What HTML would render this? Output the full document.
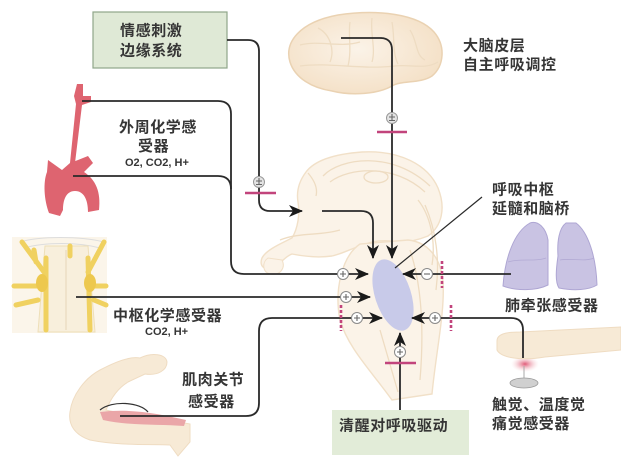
<!DOCTYPE html>
<html><head><meta charset="utf-8">
<style>
html,body{margin:0;padding:0;background:#fff;}
svg{display:block;}
text{font-family:"Liberation Sans","Noto Sans CJK SC",sans-serif;}
.cn{font-size:15px;font-weight:bold;fill:#353535;letter-spacing:0.6px;}
.sm{font-size:11px;font-weight:bold;fill:#353535;}
.ln{fill:none;stroke:#2a2a2a;stroke-width:1.8;}
.mg{stroke:#c2447c;stroke-width:2.6;fill:none;}
.md{stroke:#c2447c;stroke-width:2.6;fill:none;stroke-dasharray:3 2;}
.ci{fill:#fff;stroke:#8a8a8a;stroke-width:1;}
.pl{stroke:#666;stroke-width:1.1;}
.sk{fill:none;stroke:#eedcc2;stroke-width:1.3;}
</style></head><body>
<svg width="621" height="467" viewBox="0 0 621 467" xmlns="http://www.w3.org/2000/svg">
<defs>
<marker id="ar" viewBox="0 0 14 12" refX="13" refY="6" markerWidth="14" markerHeight="12" markerUnits="userSpaceOnUse" orient="auto"><path d="M0,0 L14,6 L0,12 L4,6 Z" fill="#1a1a1a"/></marker>
<radialGradient id="spot"><stop offset="0" stop-color="#e05a78"/><stop offset="1" stop-color="#f7d6d6" stop-opacity="0"/></radialGradient>
<radialGradient id="brainG" cx="0.45" cy="0.45" r="0.6"><stop offset="0" stop-color="#fbf3e8"/><stop offset="1" stop-color="#f4e0c6"/></radialGradient>
</defs>
<rect width="621" height="467" fill="#fff"/>

<!-- Top green box -->
<rect x="93" y="12" width="134" height="56" fill="#dfe9d6" stroke="#8fa68a" stroke-width="1.2"/>

<!-- Brain (cortex) -->
<path d="M290,62 C284,42 300,22 338,15 C378,9 418,14 434,32 C446,46 444,66 432,76 C420,84 402,80 392,86 C378,94 352,96 332,91 C312,88 295,78 290,62 Z" fill="url(#brainG)" stroke="#ead2b2" stroke-width="1.5"/>
<path class="sk" d="M300,45 C320,40 340,48 360,42 M318,28 C330,34 335,50 330,62 M350,22 C348,35 352,50 348,66 M372,18 C370,34 376,48 372,62 M392,22 C395,38 392,52 398,64 M300,66 C330,62 360,70 395,66 C410,64 425,70 438,62 M410,30 C418,42 415,55 425,60"/>

<!-- Sagittal brain & brainstem -->
<path d="M306,172 C315,160 335,154 362,152 C400,150 428,165 438,188 C446,208 442,226 428,236 C418,240 410,242 400,242 C388,240 376,240 366,244 C352,248 342,254 332,256 C318,258 302,256 292,254 C286,256 282,262 276,266 C268,272 258,268 262,258 C266,250 280,244 292,238 C298,228 300,214 298,202 C296,190 300,180 306,172 Z" fill="#fbf3e8" stroke="#f1e0c8" stroke-width="1.4"/>
<path d="M360,244 C342,256 334,290 340,320 C348,348 372,372 392,400 L432,394 C436,352 445,312 443,282 C441,258 428,242 408,240 Z" fill="#fbf3e8" stroke="#f1e0c8" stroke-width="1.4"/>
<path class="sk" d="M323,176 C340,158 392,150 430,186 M330,182 C350,167 395,164 425,192 M308,173 C314,180 318,188 316,196"/>
<ellipse cx="376" cy="177" rx="12" ry="6" class="sk"/>
<path class="sk" d="M418,200 C430,215 436,240 432,265 M425,205 C436,230 440,260 436,290 M410,250 C420,280 425,320 420,380 M380,330 C386,350 392,372 398,392 M280,240 C300,232 320,236 340,230"/>
<path d="M268,258 C262,262 262,272 270,274 C280,276 286,268 282,260 Z" fill="#fbf3e8" stroke="#f1e0c8"/>

<!-- Aorta / carotid -->
<path d="M77,84 L83,84 L83,96 L91,96 L91,102 L82,105 L75,163 L70,163 L76,104 L74,96 Z" fill="#de6470"/>
<path d="M48,160 L62,170 L70,163 L78,160 L88,156 L93,163 L84,172 C96,180 101,192 99,210 L88,212 C88,200 84,191 75,191 C66,191 63,200 63,210 L60,216 L49,213 C44,200 43,182 47,172 Z" fill="#de6470"/>

<!-- Spinal cord -->
<rect x="12" y="237" width="95" height="96" fill="#fbf5ea"/>
<path d="M20,242 C40,236 80,236 104,242" fill="none" stroke="#ddd" stroke-width="1"/>
<path d="M24,248 C45,242 78,242 100,248" fill="none" stroke="#ddd" stroke-width="1"/>
<path d="M45,246 L88,246 L95,332 L38,332 Z" fill="#f8efdc" stroke="#eedfb8"/>
<line x1="66" y1="250" x2="66" y2="330" stroke="#e6d6b8"/>
<g stroke="#f0d160" stroke-width="5" stroke-linecap="round" fill="none">
<path d="M22,242 L44,272 M104,242 L88,272 M46,258 L46,330 M88,258 L90,330 M14,286 L42,286 M92,286 L106,286 M16,305 L38,300 M94,300 L106,305 M34,250 L36,262 M70,246 L70,256"/>
</g>
<ellipse cx="42" cy="283" rx="6" ry="9" fill="#edc84e"/>
<ellipse cx="90" cy="283" rx="6" ry="9" fill="#edc84e"/>

<!-- Arm -->
<path d="M140,358 C130,356 115,362 100,370 C85,378 72,395 70,412 C68,425 75,435 90,440 C120,446 150,444 170,445 L178,456 L190,442 L190,424 C170,420 140,418 106,410 C111,398 118,388 128,382 L145,374 C158,376 167,370 167,362 C166,354 152,352 140,358 Z" fill="#f7ead6" stroke="#efdcc2"/>
<path d="M100,412 C130,408 160,414 186,420 L184,426 C160,424 130,426 103,420 Z" fill="#eaa6a8"/>
<path d="M100,410 C112,400 140,402 148,412" fill="none" stroke="#333" stroke-width="1.2"/>

<!-- Lungs -->
<path d="M530,223 C514,232 505,258 503,286 C516,291 536,291 548,285 L548,240 C546,228 538,220 530,223 Z" fill="#c9c3e3" stroke="#aea6d3"/>
<path d="M566,223 C559,228 557,242 558,256 C556,270 555,282 559,288 C574,291 589,290 597,285 C596,256 588,232 576,223 Z" fill="#c9c3e3" stroke="#aea6d3"/>
<path d="M508,262 C520,258 535,262 546,258 M560,260 C572,258 585,262 594,258" fill="none" stroke="#b2aad4" stroke-width="0.8"/>

<!-- Finger -->
<ellipse cx="525" cy="364" rx="14" ry="8" fill="url(#spot)"/>
<path d="M497,341 C497,334 506,332 520,332 L621,327 L621,350 L545,357 C522,361 501,358 497,350 Z" fill="#f7ead6" stroke="#efdcc2"/>
<line x1="524" y1="366" x2="524" y2="382" stroke="#aaa" stroke-width="1"/>
<ellipse cx="524" cy="383" rx="14" ry="5" fill="#d0d0d0" stroke="#999" stroke-width="0.8"/>

<!-- Bottom green box -->
<rect x="332" y="410" width="137" height="45" fill="#e2ecd8"/>

<!-- Ellipse respiratory center -->
<ellipse cx="393" cy="295" rx="18" ry="37" transform="rotate(-18 393 295)" fill="#c8cae9"/>

<!-- Connectors -->
<path class="ln" marker-end="url(#ar)" d="M227,40 L248,40 Q259,40 259,51 L259,200 Q259,211 270,211 L302,211"/>
<path class="ln" marker-end="url(#ar)" d="M341,38 L380,38 Q392,38 392,50 L392,258"/>
<path class="ln" marker-end="url(#ar)" d="M322,211 L361,211 Q373,211 373,223 L373,258"/>
<path class="ln" marker-end="url(#ar)" d="M82,101 L218,101 Q231,101 231,114 L231,261 Q231,274 244,274 L368,274"/>
<path class="ln" d="M73,176 L218,176 Q231,176 231,189"/>
<path class="ln" marker-end="url(#ar)" d="M76,297 L370,297"/>
<path class="ln" marker-end="url(#ar)" d="M120,416 L246,416 Q259,416 259,403 L259,331 Q259,318 272,318 L382,318"/>
<path class="ln" marker-end="url(#ar)" d="M511,274 L403,274"/>
<path class="ln" marker-end="url(#ar)" d="M523,358 L523,330 Q523,318 511,318 L412,318"/>
<path class="ln" marker-end="url(#ar)" d="M400,410 L400,333"/>
<path d="M482,197 L395,268" stroke="#2a2a2a" stroke-width="1.2" fill="none"/>

<!-- Inhibitory bars -->
<line class="mg" x1="245" y1="193" x2="276" y2="193"/>
<line class="mg" x1="377" y1="132" x2="407" y2="132"/>
<line class="mg" x1="385" y1="363" x2="416" y2="363"/>
<line class="md" x1="341" y1="305" x2="341" y2="331"/>
<line class="md" x1="442" y1="261" x2="442" y2="288"/>
<line class="md" x1="451" y1="305" x2="451" y2="331"/>

<!-- Sign circles -->
<g>
<circle cx="259" cy="182" r="5.5" fill="#e4e4e4" stroke="#999"/><path class="pl" d="M256,181 h6 M259,178 v6 M256,184.5 h6"/>
<circle cx="392" cy="118" r="5.5" fill="#e4e4e4" stroke="#999"/><path class="pl" d="M389,117 h6 M392,114 v6 M389,120.5 h6"/>
<circle class="ci" cx="343" cy="274" r="5.5"/><path class="pl" d="M340,274 h6 M343,271 v6"/>
<circle class="ci" cx="346" cy="297" r="5.5"/><path class="pl" d="M343,297 h6 M346,294 v6"/>
<circle class="ci" cx="357" cy="318" r="5.5"/><path class="pl" d="M354,318 h6 M357,315 v6"/>
<circle class="ci" cx="427" cy="274" r="5.5"/><path class="pl" d="M424,274 h6"/>
<circle class="ci" cx="435" cy="318" r="5.5"/><path class="pl" d="M432,318 h6 M435,315 v6"/>
<circle class="ci" cx="400" cy="352" r="5.5"/><path class="pl" d="M397,352 h6 M400,349 v6"/>
</g>

<!-- Labels -->
<text class="cn" x="120" y="35.5">情感刺激</text>
<text class="cn" x="120" y="55.5">边缘系统</text>
<text class="cn" x="119" y="132">外周化学感</text>
<text class="cn" x="138" y="151">受器</text>
<text class="sm" x="125" y="166">O2, CO2, H+</text>
<text class="cn" x="463" y="50.5">大脑皮层</text>
<text class="cn" x="463" y="69.5">自主呼吸调控</text>
<text class="cn" x="492" y="194.5">呼吸中枢</text>
<text class="cn" x="492" y="213.5">延髓和脑桥</text>
<text class="cn" x="113" y="320.5">中枢化学感受器</text>
<text class="sm" x="145" y="335">CO2, H+</text>
<text class="cn" x="182" y="384.5">肌肉关节</text>
<text class="cn" x="188" y="406.5">感受器</text>
<text class="cn" x="505" y="310.5">肺牵张感受器</text>
<text class="cn" x="492" y="409.5">触觉、温度觉</text>
<text class="cn" x="492" y="428.5">痛觉感受器</text>
<text class="cn" x="339" y="430.5">清醒对呼吸驱动</text>
</svg>
</body></html>
